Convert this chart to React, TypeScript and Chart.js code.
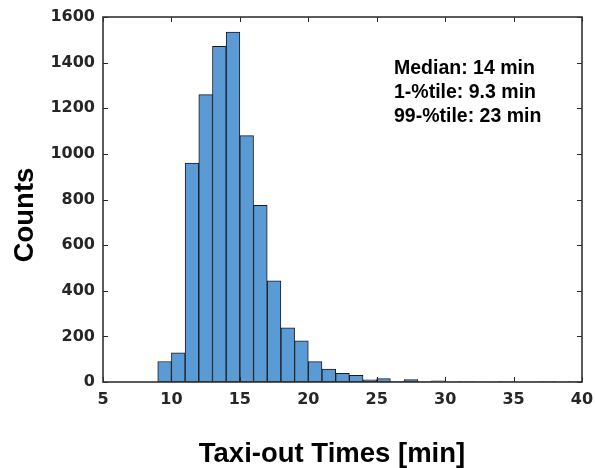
import React, { useEffect, useRef } from "react";
import { Chart, registerables } from "chart.js";

Chart.register(...registerables);

// Bin left edges (minutes), bin width 1 min
const binStarts = [9, 10, 11, 12, 13, 14, 15, 16, 17, 18, 19, 20, 21, 22, 23, 24, 25, 26, 27, 28, 29, 30, 31, 32, 33, 34, 35, 36, 37, 38, 39];
const counts = [90, 128, 960, 1260, 1471, 1534, 1080, 774, 443, 238, 180, 89, 57, 38, 29, 10, 15, 3, 11, 2, 5, 1, 2, 1, 1, 2, 1, 1, 2, 1, 2];
const binWidth = 1;

const xTicks = [5, 10, 15, 20, 25, 30, 35, 40];
const yTicks = [0, 200, 400, 600, 800, 1000, 1200, 1400, 1600];

const xTitle = "Taxi-out Times [min]";
const yTitle = "Counts";
const annotationLines = ["Median: 14 min", "1-%tile: 9.3 min", "99-%tile: 23 min"];

const axisColor = "#262626";
const barFill = "#5b9bd5";
const barEdge = "#1a1a1a";

const framePlugin = {
  id: "matlabFrame",
  afterDatasetsDraw(chart: any) {
    const { ctx, chartArea, scales } = chart;
    const { left, right, top, bottom } = chartArea;
    const xs = scales.x;
    const ys = scales.y;
    ctx.save();
    ctx.strokeStyle = axisColor;
    ctx.lineWidth = 1;
    const tl = 5;
    ctx.beginPath();
    xTicks.forEach((v) => {
      const px = Math.round(xs.getPixelForValue(v)) + 0.5;
      ctx.moveTo(px, bottom);
      ctx.lineTo(px, bottom - tl);
      ctx.moveTo(px, top);
      ctx.lineTo(px, top + tl);
    });
    yTicks.forEach((v) => {
      const py = Math.round(ys.getPixelForValue(v)) + 0.5;
      ctx.moveTo(left, py);
      ctx.lineTo(left + tl, py);
      ctx.moveTo(right, py);
      ctx.lineTo(right - tl, py);
    });
    ctx.stroke();
    ctx.lineWidth = 1.6;
    ctx.strokeStyle = "#333333";
    ctx.strokeRect(left, top, right - left, bottom - top);

    // annotation
    ctx.fillStyle = "#000000";
    ctx.font = "bold 19.5px 'Liberation Sans', Arial, sans-serif";
    ctx.textAlign = "left";
    ctx.textBaseline = "alphabetic";
    annotationLines.forEach((t, i) => {
      ctx.fillText(t, 394, 74 + i * 24);
    });

    // axis titles
    ctx.font = "bold 27.5px 'Liberation Sans', Arial, sans-serif";
    ctx.textAlign = "center";
    ctx.fillText(xTitle, 332, 462);
    ctx.save();
    ctx.translate(33, 215);
    ctx.rotate(-Math.PI / 2);
    ctx.fillText(yTitle, 0, 0);
    ctx.restore();
    ctx.restore();
  },
};

export default function App() {
  const canvasRef = useRef<HTMLCanvasElement | null>(null);

  useEffect(() => {
    document.body.style.margin = "0";
    const canvas = canvasRef.current;
    if (!canvas) return;
    const data = binStarts.map((s, i) => ({ x: s + binWidth / 2, y: counts[i] }));
    const tickFont = { family: "'DejaVu Sans', sans-serif", size: 16, weight: "bold" as const };
    const chart = new Chart(canvas, {
      type: "bar",
      data: {
        datasets: [
          {
            data,
            backgroundColor: barFill,
            borderColor: barEdge,
            borderWidth: 1,
            borderSkipped: false,
            barPercentage: 1,
            categoryPercentage: 1,
          },
        ],
      },
      options: {
        responsive: false,
        maintainAspectRatio: false,
        animation: false,
        devicePixelRatio: 1,
        layout: { padding: { top: 17, right: 13, left: 0, bottom: 0 } },
        plugins: { legend: { display: false }, tooltip: { enabled: false } },
        scales: {
          x: {
            type: "linear",
            min: 5,
            max: 40,
            offset: false,
            grid: { display: false, drawTicks: false },
            border: { display: false },
            afterFit: (s: any) => {
              s.height = 86;
              s.paddingLeft = 0;
              s.paddingRight = 0;
            },
            afterBuildTicks: (s: any) => {
              s.ticks = xTicks.map((v) => ({ value: v }));
            },
            ticks: {
              color: axisColor,
              font: tickFont,
              padding: 8,
              maxRotation: 0,
              callback: (v: any) => String(v),
            },
          },
          y: {
            type: "linear",
            min: 0,
            max: 1600,
            grid: { display: false, drawTicks: false },
            border: { display: false },
            afterFit: (s: any) => {
              s.width = 103;
              s.paddingTop = 0;
              s.paddingBottom = 0;
            },
            afterBuildTicks: (s: any) => {
              s.ticks = yTicks.map((v) => ({ value: v }));
            },
            ticks: {
              color: axisColor,
              font: tickFont,
              padding: 8,
              callback: (v: any) => String(v),
            },
          },
        },
      },
      plugins: [framePlugin],
    });
    return () => chart.destroy();
  }, []);

  return (
    <div style={{ width: 595, height: 468, background: "#fff" }}>
      <canvas ref={canvasRef} width={595} height={468} style={{ display: "block" }} />
    </div>
  );
}
